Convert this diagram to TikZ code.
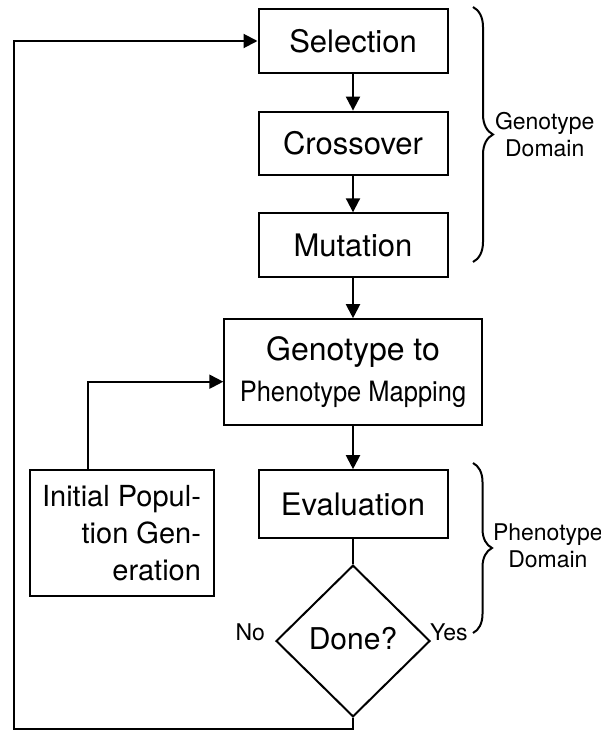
\documentclass[tikz,border=0pt]{standalone}
\usepackage{fontspec}
\setmainfont{TeX Gyre Heros}
\usetikzlibrary{calc,shapes.geometric,arrows.meta,decorations.pathreplacing}

\begin{document}
\begin{tikzpicture}[x=0.5pt,y=-0.5pt,
    line width=1pt,
    >={Triangle[length=7pt,width=7pt]},
    stage/.style={draw,rectangle,minimum width=94.5pt,minimum height=31.7pt,inner sep=0pt,
      font=\fontsize{15.5}{18}\selectfont},
    domainbrace/.style={decorate,decoration={brace,amplitude=10pt}},
    tag/.style={font=\fontsize{11.5}{13.5}\selectfont,inner sep=0pt}]
    \pgfmathsetmacro{\midX}{353}
    \useasboundingbox (0,0) rectangle (600,733);

    \node (Sel) [stage] at (\midX,41) {Selection};
    \node (Cross) [stage] at (\midX,143.3) {Crossover};
    \node (Mut) [stage] at (\midX,245) {Mutation};
    \node (Map) [stage,minimum width=128.7pt,minimum height=52.8pt,align=center,
      font=\fontsize{16}{20.5}\selectfont] at (\midX,372)
      {Genotype to\\\scalebox{0.91}[1]{\fontsize{14}{20.5}\selectfont Phenotype Mapping}};
    \node (Eval) [stage,minimum height=33.8pt] at (\midX,504) {Evaluation};
    \node (Done) [draw,diamond,minimum width=77pt,minimum height=75.8pt,inner sep=0pt,
      font=\fontsize{15}{18}\selectfont] at (\midX,641) {\raisebox{3pt}{Done?}};
    \node (Init) [stage,minimum width=92pt,minimum height=63pt,align=right,
      font=\fontsize{14.5}{18.5}\selectfont] at (121.5,533) {Initial Popul-\\tion Gen-\\eration};

    \draw[->] (Sel) -- (Cross);
    \draw[->] (Cross) -- (Mut);
    \draw[->] (Mut) -- (Map);
    \draw[->] (Map) -- (Eval);
    \draw (Eval) -- (Done);
    \coordinate (Back) at (14,729);
    \draw[->] (Done.south) |- (Back) |- (Sel.west);
    \draw[->] ($(Init.north)+(-33.5,0)$) |- ($(Map.west)+(0,9.7)$);

    \node (No) [tag,anchor=east] at ($(Done.west)+(-9,-9)$) {No};
    \node (Yes) [tag,anchor=west] at ($(Done.east)+(-2,-9)$) {Yes};

    \draw[domainbrace] (473,7) -- (473,262);
    \node (GenoTag) [tag,anchor=west,align=center] at (494,134.5) {Genotype\\Domain};
    \draw[domainbrace,decoration={amplitude=9.5pt}] (473,463) -- (473,633);
    \node (PhenoTag) [tag,anchor=west,align=center] at (492,545.5) {Phenotype\\Domain};
  \end{tikzpicture}
\end{document}
